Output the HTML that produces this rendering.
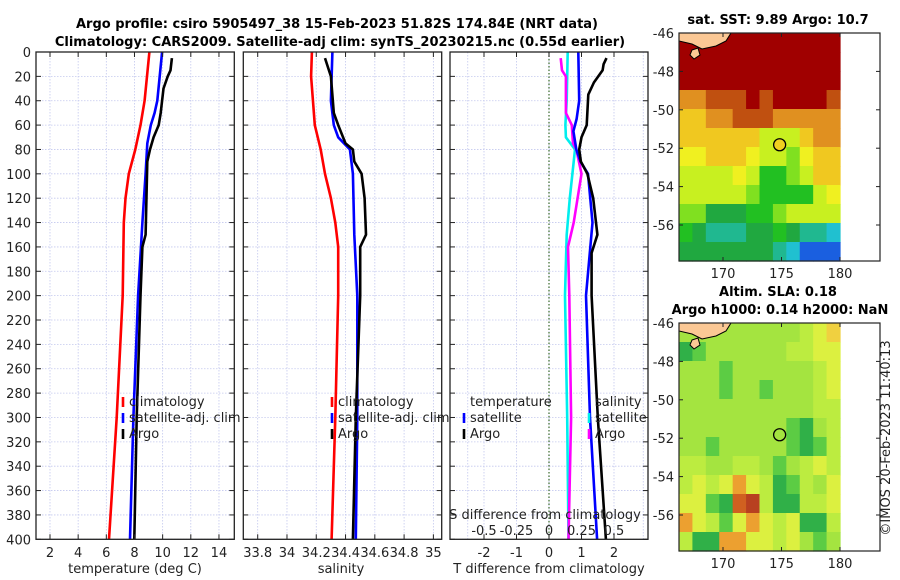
<!DOCTYPE html>
<html><head><meta charset="utf-8">
<style>
html,body{margin:0;padding:0;background:#fff;}
svg{display:block;font-family:"DejaVu Sans","Liberation Sans",sans-serif;}
</style></head>
<body>
<svg id="fig" width="900" height="580" viewBox="0 0 900 580" xmlns="http://www.w3.org/2000/svg">
<g id="titles" font-weight="bold" font-size="13" text-anchor="middle" fill="#000">
<text x="337" y="28">Argo profile: csiro 5905497_38 15-Feb-2023 51.82S 174.84E (NRT data)</text>
<text x="340" y="46">Climatology: CARS2009. Satellite-adj clim: synTS_20230215.nc (0.55d earlier)</text>
<text x="778" y="24">sat. SST: 9.89 Argo: 10.7</text>
<text x="778" y="296">Altim. SLA: 0.18</text>
<text x="780" y="314">Argo h1000: 0.14 h2000: NaN</text>
</g>
<g id="layer"></g>
<text x="890" y="438" transform="rotate(-90 890 438)" text-anchor="middle" font-size="13" fill="#222">©IMOS 20-Feb-2023 11:40:13</text>
</svg>
<script>
// ---- profile data (depth in m) ----
const tClimDepth=[0,40,60,80,100,120,140,200,300,400];
const tClim=[9.06,8.72,8.43,8.06,7.6,7.36,7.24,7.16,6.74,6.19];
const tSatDepth=[0,40,50,60,75,100,140,200,300,400];
const tSat=[9.96,9.62,9.43,9.16,8.91,8.79,8.56,8.26,7.92,7.68];
const tArgoDepth=[5,15,20,30,50,60,70,80,90,150,160,200,300,400];
const tArgo=[10.66,10.56,10.36,10.06,9.86,9.72,9.36,9.1,8.91,8.79,8.56,8.43,8.16,7.99];
const sClimDepth=[0,20,60,80,100,120,140,160,200,300,400];
const sClim=[34.17,34.165,34.19,34.23,34.26,34.3,34.33,34.35,34.35,34.33,34.305];
const sSatDepth=[0,40,60,70,80,100,150,200,300,400];
const sSat=[34.31,34.3,34.32,34.35,34.43,34.45,34.46,34.48,34.48,34.47];
const sArgoDepth=[5,20,50,60,75,80,90,100,120,150,160,200,300,400];
const sArgo=[34.26,34.3,34.32,34.35,34.4,34.45,34.46,34.51,34.53,34.54,34.5,34.5,34.47,34.45];
// ---- differences ----
const dTSatDepth=[0,40,55,65,80,90,100,140,200,300,400];
const dTSat=[0.9,0.93,0.85,0.75,0.84,0.97,1.2,1.34,1.14,1.26,1.48];
const dTArgoDepth=[5,10,15,25,35,60,70,80,90,100,120,150,165,200,300,400];
const dTArgo=[1.77,1.68,1.65,1.38,1.21,1.16,1.0,0.93,0.98,1.18,1.36,1.49,1.31,1.31,1.5,1.75];
const dSSatDepth=[0,40,60,70,80,100,120,150,200,300,400];
const dSSat=[0.144,0.136,0.126,0.13,0.2,0.18,0.16,0.136,0.123,0.14,0.15];
const dSArgoDepth=[5,15,20,50,60,75,80,100,120,140,160,200,300,400];
const dSArgo=[0.09,0.1,0.13,0.13,0.175,0.185,0.21,0.25,0.22,0.19,0.146,0.156,0.17,0.15];
// ---- axis ticks ----
const depthTicks=[0,20,40,60,80,100,120,140,160,180,200,220,240,260,280,300,320,340,360,380,400];
const tempTicks=[2,4,6,8,10,12,14];
const salTicks=[33.8,34,34.2,34.4,34.6,34.8,35];
const dTTicks=[-2,-1,0,1,2];
const dSTicks=[-0.5,-0.25,0,0.25,0.5];
const dSTickLabels=["-0.5","-0.25","0","0.25","0.5"];
const lonTicks=[170,175,180];
const latTicks=[-46,-48,-50,-52,-54,-56];
// ---- map grids (12 lon cols x 12 lat rows, from -46 southward) ----
const sstGrid=[
[15,15,15,15,15,15,15,15,15,15,15,15],
[15,15,15,15,15,15,15,15,15,15,15,15],
[14,14,14,14,14,14,14,14,14,14,14,14],
[12,12,13,13,13,14,13,14,14,14,14,13],
[11,11,12,12,13,13,13,12,12,12,12,12],
[11,11,11,11,11,11,10,10,10,11,12,12],
[10.5,10.5,11,11,11,10.5,10,10,9.5,10.5,11,11.5],
[10,10,10,10,10.5,10,9,9,9.5,10,11,11],
[10,10,10,10,10,9.5,9,9,9,9,10,10.5],
[9.5,9.5,8.5,8.5,8.5,9,9,9.5,10,10,10,10],
[9,8.5,8,8,8,8.5,8.5,9,8.5,8,8,7.5],
[8.5,8.5,8.5,8.5,8.5,8.5,8.5,8,7.5,7,7,6.5]];
const slaGrid=[
[0,0,0,0,0,0,0,0,0,0.05,0.1,0.12],
[-0.1,-0.05,0,0,0,0,0,0.02,0.05,0.05,0.08,0.1],
[0,0,0,-0.03,0,0,0,0,0,0.02,0.05,0.08],
[0,0,0,-0.03,0,0,-0.03,0,0,0,0.05,0.08],
[0.02,0,0,0,0,0,0,0,0,0.02,0.05,0.05],
[0.02,0,0.02,0,0,0,0,0,-0.05,-0.1,0,0.05],
[0.02,0,-0.03,0,0.02,0,0,0.02,-0.05,-0.08,-0.05,0.05],
[0.05,0.05,0,0.02,0.05,0.05,0.02,-0.05,0,0.05,0.1,0.05],
[0.05,0.08,0.05,0.1,0.15,0.1,0.05,-0.1,-0.05,0.05,0,0.08],
[0.1,0.1,-0.05,-0.1,0.2,0.25,0.05,-0.1,-0.1,0.05,0.05,0.08],
[0.15,0.1,0.05,-0.05,0.1,0.15,0.1,0.05,0.1,-0.1,-0.1,0.05],
[0.05,-0.1,-0.1,0.15,0.15,0.1,0.1,0.05,0.1,0,-0.05,0]];
const argoLon=174.84, argoLat=-51.82;

const NS='http://www.w3.org/2000/svg';
const layer=document.getElementById('layer');
function mk(tag,attrs,parent){const e=document.createElementNS(NS,tag);for(const k in attrs)e.setAttribute(k,attrs[k]);(parent||layer).appendChild(e);return e;}
function txt(x,y,s,attrs,parent){const e=mk('text',Object.assign({x:x,y:y},attrs||{}),parent);e.textContent=s;return e;}

const PT=52, PB=539.3;
const yD=d=>PT+(PB-PT)*d/400;
const xT=t=>50+(t-2)*14.08;
const xS=s=>257.7+(s-33.8)*146.4;
const xDT=v=>549+v*32.5;
const xDS=v=>549+v*130;

function panel(x0,x1,name){
  const g=mk('g',{});
  
  
  return g;
}
function grid(g,x0,x1,xs){
  depthTicks.forEach(d=>{const l=mk('line',{x1:x0,x2:x1,y1:yD(d),y2:yD(d),stroke:'#c3c8ee','stroke-width':0.8,'stroke-dasharray':'1.5,1.5'},g);
    });
  xs.forEach(x=>{const l=mk('line',{x1:x,x2:x,y1:PT,y2:PB,stroke:'#c3c8ee','stroke-width':0.8,'stroke-dasharray':'1.5,1.5'},g);
    });
}
function frame(g,x0,x1,xs){
  const r=mk('rect',{x:x0,y:PT,width:x1-x0,height:PB-PT,fill:'none',stroke:'#222','stroke-width':1.3},g);
  
  depthTicks.forEach(d=>{mk('line',{x1:x0,x2:x0+5,y1:yD(d),y2:yD(d),stroke:'#222'},g);mk('line',{x1:x1,x2:x1-5,y1:yD(d),y2:yD(d),stroke:'#222'},g);});
  xs.forEach(x=>{mk('line',{x1:x,x2:x,y1:PB,y2:PB-5,stroke:'#222'},g);mk('line',{x1:x,x2:x,y1:PT,y2:PT+5,stroke:'#222'},g);});
}
function line(g,xs,ds,fx,color,name){
  const pts=xs.map((v,i)=>fx(v).toFixed(1)+','+yD(ds[i]).toFixed(1)).join(' ');
  const p=mk('polyline',{points:pts,fill:'none',stroke:color,'stroke-width':2.6,'stroke-linejoin':'round'},g);
  
}
function legendEntry(g,x,y,color,label){
  const e=mk('g',{},g);
  
  mk('line',{x1:x,x2:x,y1:y-9,y2:y+1,stroke:color,'stroke-width':2.6},e);
  txt(x+6,y,label,{'font-size':13,fill:'#222'},e);
}

// Panel 1 temperature
let g1=panel(36,234,'temperature-panel');
grid(g1,36,234,tempTicks.map(xT));
line(g1,tClim,tClimDepth,xT,'#ff0000','climatology-temperature-line');
line(g1,tSat,tSatDepth,xT,'#0000ff','satellite-temperature-line');
line(g1,tArgo,tArgoDepth,xT,'#000000','argo-temperature-line');
frame(g1,36,234.3,tempTicks.map(xT));
depthTicks.forEach(d=>{const t=txt(31,yD(d)+5,String(d),{'font-size':13,'text-anchor':'end',fill:'#222'},g1);});
tempTicks.forEach(v=>{const t=txt(xT(v),557,String(v),{'font-size':13,'text-anchor':'middle',fill:'#222'},g1);});
let xl=txt(135,573,'temperature (deg C)',{'font-size':13,'text-anchor':'middle',fill:'#222'},g1);

legendEntry(g1,123,406,'#ff0000','climatology');
legendEntry(g1,123,422,'#0000ff','satellite-adj. clim');
legendEntry(g1,123,438,'#000000','Argo');

// Panel 2 salinity
let g2=panel(243,441,'salinity-panel');
grid(g2,243.3,441.7,salTicks.map(xS));
line(g2,sClim,sClimDepth,xS,'#ff0000','climatology-salinity-line');
line(g2,sSat,sSatDepth,xS,'#0000ff','satellite-salinity-line');
line(g2,sArgo,sArgoDepth,xS,'#000000','argo-salinity-line');
frame(g2,243.3,441.7,salTicks.map(xS));
salTicks.forEach(v=>{const t=txt(xS(v),557,String(v),{'font-size':13,'text-anchor':'middle',fill:'#222'},g2);});
xl=txt(341,573,'salinity',{'font-size':13,'text-anchor':'middle',fill:'#222'},g2);

legendEntry(g2,332,406,'#ff0000','climatology');
legendEntry(g2,332,422,'#0000ff','satellite-adj. clim');
legendEntry(g2,332,438,'#000000','Argo');

// Panel 3 differences
let g3=panel(450,648,'difference-panel');
grid(g3,450,648,[-2.5,-2,-1,0,1,2].map(xDT).concat([xDT(2.9)]).filter(x=>x>450&&x<648));
const zl=mk('line',{x1:xDT(0),x2:xDT(0),y1:PT,y2:PB,stroke:'#3a6a2a','stroke-width':1.2,'stroke-dasharray':'1.5,2'},g3);

line(g3,dSSat,dSSatDepth,xDS,'#00eeee','satellite-salinity-diff-line');
line(g3,dSArgo,dSArgoDepth,xDS,'#ff00ff','argo-salinity-diff-line');
line(g3,dTSat,dTSatDepth,xDT,'#0000ff','satellite-temperature-diff-line');
line(g3,dTArgo,dTArgoDepth,xDT,'#000000','argo-temperature-diff-line');
frame(g3,450,648,dTTicks.map(xDT));
dTTicks.forEach(v=>{const t=txt(xDT(v),557,String(v),{'font-size':13,'text-anchor':'middle',fill:'#222'},g3);});
xl=txt(549,573,'T difference from climatology',{'font-size':13,'text-anchor':'middle',fill:'#222'},g3);

dSTicks.forEach((v,i)=>{const t=txt(xDS(v),535,dSTickLabels[i],{'font-size':13,'text-anchor':'middle',fill:'#222'},g3);});
xl=txt(545,519,'S difference from climatology',{'font-size':13,'text-anchor':'middle',fill:'#222'},g3);

let lt=txt(470,406,'temperature',{'font-size':13,fill:'#222'},g3);
legendEntry(g3,464,422,'#0000ff','satellite');
legendEntry(g3,464,438,'#000000','Argo');
lt=txt(595,406,'salinity',{'font-size':13,fill:'#222'},g3);
legendEntry(g3,589,422,'#00eeee','satellite');
legendEntry(g3,589,438,'#ff00ff','Argo');

// ---- maps ----
function sstColor(v){
  const stops=[[6.5,'#1a5fe0'],[7.5,'#20c0d0'],[8,'#20b890'],[8.5,'#20a840'],[9,'#22c022'],[9.5,'#80e020'],[10,'#c8f020'],[10.5,'#f0f020'],[11,'#f0c820'],[12,'#e09020'],[13,'#c05010'],[14,'#a00000']];
  let c=stops[0][1];stops.forEach(s=>{if(v>=s[0])c=s[1];});return c;}
function slaColor(v){
  const stops=[[-1,'#30b048'],[-0.07,'#5ccc44'],[-0.02,'#a4e440'],[0.03,'#bcec40'],[0.07,'#dcf040'],[0.11,'#f0d040'],[0.14,'#eca030'],[0.19,'#d06020'],[0.24,'#b84020']];
  let c=stops[0][1];stops.forEach(s=>{if(v>=s[0])c=s[1];});return c;}
function map(top,grid,colorFn,name,fillMarker){
  const g=mk('g',{});
  
  const x0=679,x1=880,xLon=l=>723+(l-170)*11.7,yLat=a=>top+(-46-a)*19.2;
  const bottom=top+228;
  mk('rect',{x:x0,y:top,width:x1-x0,height:bottom-top,fill:'#fff'},g);
  const cw=(xLon(180)-x0)/12, ch=(bottom-top)/12;
  grid.forEach((row,r)=>row.forEach((v,c)=>{
    const cell=mk('rect',{x:(x0+c*cw).toFixed(2),y:(top+r*ch).toFixed(2),width:(cw+0.6).toFixed(2),height:(ch+0.6).toFixed(2),fill:colorFn(v)},g);
    
  }));
  const land=mk('polygon',{points:`${x0},${top} 731,${top} 726,${top+8} 716,${top+13} 702,${top+16} 692,${top+11} ${x0},${top+8}`,fill:'#fbc895',stroke:'#000','stroke-width':1},g);
  
  const isl=mk('polygon',{points:`692,${top+17} 698,${top+15} 700,${top+22} 694,${top+26} 690,${top+22}`,fill:'#fbc895',stroke:'#000','stroke-width':1},g);
  
  const mkr=mk('circle',{cx:xLon(argoLon),cy:yLat(argoLat),r:6,fill:fillMarker,stroke:'#000','stroke-width':1.3},g);
  
  mk('rect',{x:x0,y:top,width:x1-x0,height:bottom-top,fill:'none',stroke:'#222','stroke-width':1.2},g);
  lonTicks.forEach(l=>{mk('line',{x1:xLon(l),x2:xLon(l),y1:bottom,y2:bottom-4,stroke:'#222'},g);mk('line',{x1:xLon(l),x2:xLon(l),y1:top,y2:top+4,stroke:'#222'},g);
    const t=txt(xLon(l),bottom+17,String(l),{'font-size':13,'text-anchor':'middle',fill:'#222'},g);});
  latTicks.forEach(a=>{mk('line',{x1:x0,x2:x0+4,y1:yLat(a),y2:yLat(a),stroke:'#222'},g);mk('line',{x1:x1,x2:x1-4,y1:yLat(a),y2:yLat(a),stroke:'#222'},g);
    const t=txt(674,yLat(a)+5,String(a),{'font-size':13,'text-anchor':'end',fill:'#222'},g);});
}
map(33,sstGrid,sstColor,'sst-map','#f0d020');
map(323,slaGrid,slaColor,'sla-map','none');
</script>
</body></html>
